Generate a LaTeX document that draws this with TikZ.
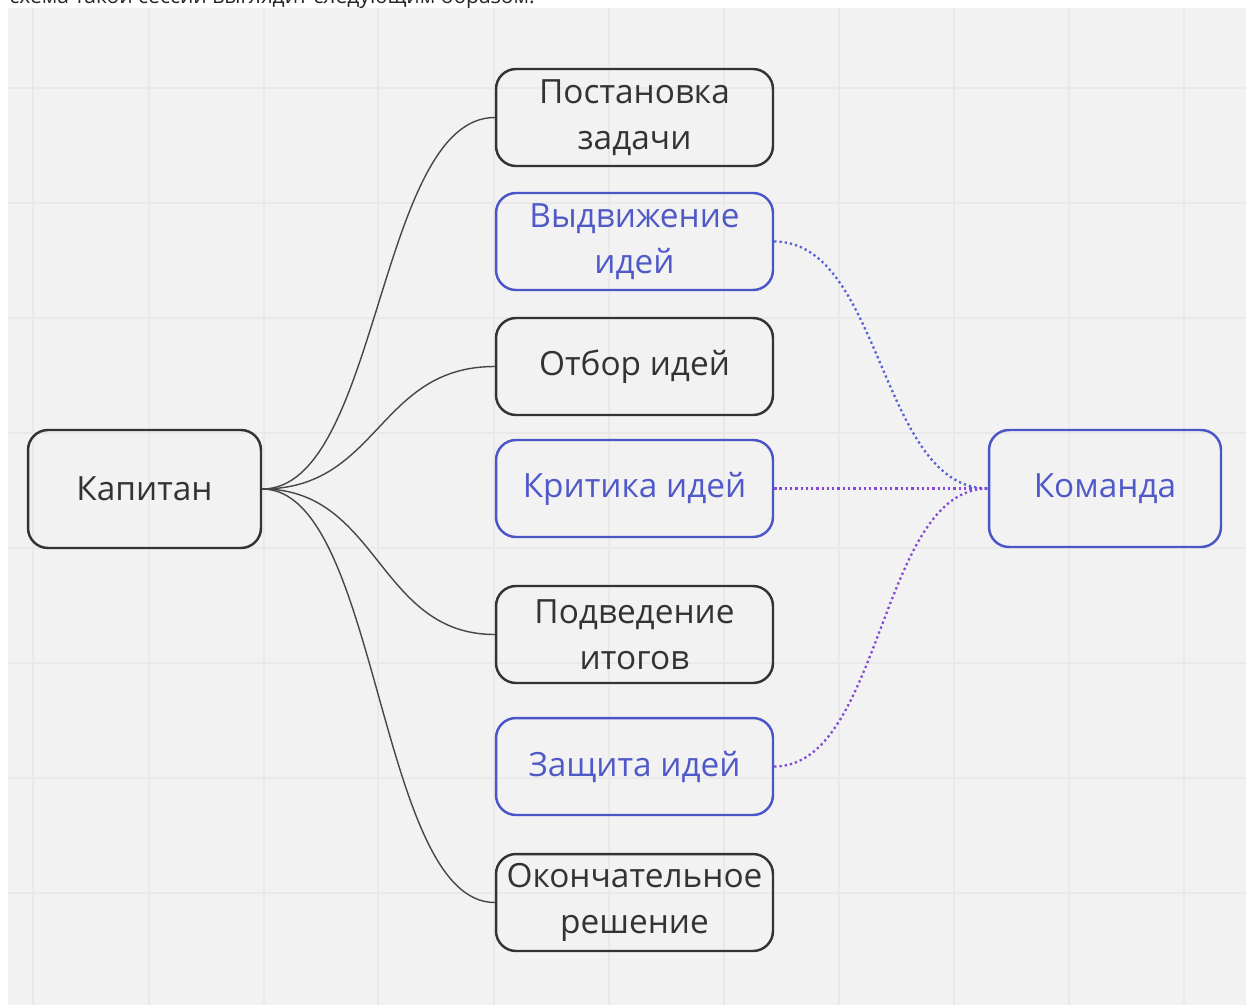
\documentclass[tikz,border=0pt]{standalone}
\usepackage{fontspec}
\setmainfont{Open Sans}
\definecolor{inkdark}{HTML}{333333}
\definecolor{inkblue}{HTML}{4A55C8}
\definecolor{txtblue}{HTML}{5059C8}
\definecolor{dotblue}{HTML}{5862D2}
\definecolor{dotpurple}{HTML}{8349D6}
\definecolor{canvas}{HTML}{F2F2F2}
\definecolor{gridline}{HTML}{E9E9E9}
\begin{document}
\begin{tikzpicture}[x=0.02cm, y=-0.02cm,
        card/.style={draw=inkdark, line width=1.4pt, rounded corners=0.4cm,
          minimum width=5.54cm, minimum height=1.94cm, align=center, text=inkdark,
          font=\fontsize{19}{26}\selectfont, inner sep=0pt},
        bluecard/.style={card, draw=inkblue, text=txtblue},
        capline/.style={draw=inkdark!90, line width=0.8pt},
        dotline/.style={line width=1.3pt, dash pattern=on 1.3pt off 1.7pt}
      ]
      \useasboundingbox (0,0) rectangle (1246,1007);
      \clip (0,0) rectangle (1246,1007);
      % canvas and grid
      \fill[canvas] (8,8) rectangle (1246,1005);
      \foreach \gx in {33,149,264,378,494,609,724,839,954,1069,1184}
        \draw[gridline, line width=0.8pt] (\gx,8) -- (\gx,1005);
      \foreach \gy in {88,203,318,433,548,663,778,893}
        \draw[gridline, line width=0.8pt] (8,\gy) -- (1246,\gy);
      \node[anchor=base west, inner sep=0pt, text=black!85,
        font=\fontsize{12}{14}\selectfont] (caption) at (9,4)
        {схема такой сессии выглядит следующим образом:};
      % main nodes
      \node[card, minimum width=4.66cm, minimum height=2.36cm] (kapitan) at (144.5,489) {Капитан};
      \node[bluecard, minimum width=4.64cm, minimum height=2.34cm] (komanda) at (1105,488.5) {Команда};
      % captain's steps
      \foreach \nm/\y/\txt in {%
        postanovka/117.5/{Постановка\\задачи},
        otbor/366.5/{Отбор идей},
        itogi/634.5/{Подведение\\итогов},
        reshenie/902.5/{Окончательное\\решение}%
      }{
        \node[card] (\nm) at (634.5,\y) {\txt};
        \draw[capline] (kapitan.east) .. controls +(117,0) and +(-117,0) .. (\nm.west);
      }
      % team's steps
      \foreach \nm/\y/\txt in {%
        vydvizhenie/241.5/{Выдвижение\\идей},
        kritika/488.5/{Критика идей},
        zashchita/766.5/{Защита идей}%
      }{
        \node[bluecard] (\nm) at (634.5,\y) {\txt};
      }
      \draw[dotline, dotblue] (vydvizhenie.east) .. controls +(108,0) and +(-108,0) .. (komanda.west);
      \draw[dotline, dotpurple] (kritika.east) -- (komanda.west);
      \draw[dotline, dotpurple] (zashchita.east) .. controls +(108,0) and +(-108,0) .. (komanda.west);
    \end{tikzpicture}
\end{document}
